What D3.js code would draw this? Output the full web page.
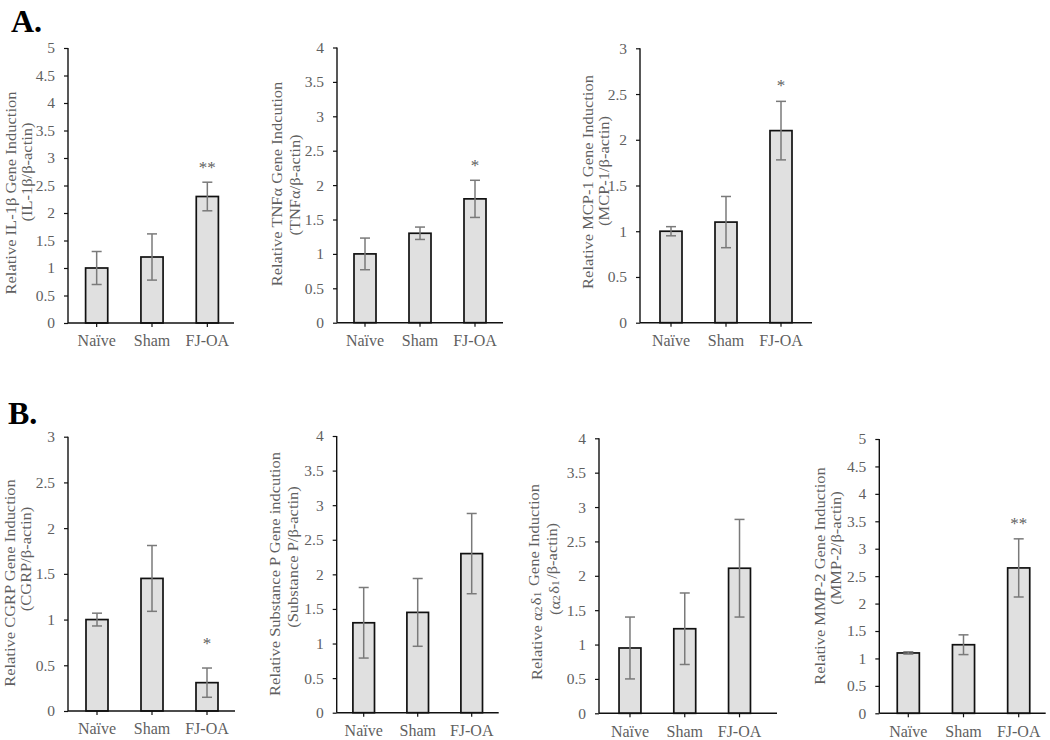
<!DOCTYPE html>
<html>
<head>
<meta charset="utf-8">
<script src="https://cdn.jsdelivr.net/npm/d3@7"></script>
<style>
  html, body { margin: 0; padding: 0; background: #ffffff; }
  svg { display: block; }
  text { font-family: "Liberation Serif", "Times New Roman", serif; }
</style>
</head>
<body>
<svg id="chart" width="1050" height="740"></svg>
<script>
// ---------------- data ----------------
const categories = ["Naïve", "Sham", "FJ-OA"];

const il1bMean = [1.0, 1.2, 2.3];
const il1bErr  = [0.30, 0.42, 0.26];
const il1bSig  = ["", "", "**"];

const tnfMean = [1.0, 1.3, 1.8];
const tnfErr  = [0.23, 0.09, 0.27];
const tnfSig  = ["", "", "*"];

const mcp1Mean = [1.0, 1.1, 2.1];
const mcp1Err  = [0.05, 0.28, 0.32];
const mcp1Sig  = ["", "", "*"];

const cgrpMean = [1.0, 1.45, 0.31];
const cgrpErr  = [0.07, 0.36, 0.16];
const cgrpSig  = ["", "", "*"];

const subPMean = [1.3, 1.45, 2.3];
const subPErr  = [0.51, 0.49, 0.58];
const subPSig  = ["", "", ""];

const a2d1Mean = [0.95, 1.23, 2.11];
const a2d1Err  = [0.45, 0.52, 0.71];
const a2d1Sig  = ["", "", ""];

const mmp2Mean = [1.1, 1.25, 2.65];
const mmp2Err  = [0.02, 0.18, 0.53];
const mmp2Sig  = ["", "", "**"];

// y-axis maximum (ticks every 0.5 from 0)
const il1bMax = 5, tnfMax = 4, mcp1Max = 3, cgrpMax = 3, subPMax = 4, a2d1Max = 4, mmp2Max = 5;
const tickStep = 0.5;

// axis titles (two lines; "_n" marks a subscript)
const il1bTitle = ["Relative IL-1β Gene Induction", "(IL-1β/β-actin)"];
const tnfTitle  = ["Relative TNFα Gene Indcution", "(TNFα/β-actin)"];
const mcp1Title = ["Relative MCP-1 Gene Induction", "(MCP-1/β-actin)"];
const cgrpTitle = ["Relative CGRP Gene Induction", "(CGRP/β-actin)"];
const subPTitle = ["Relative Substance P Gene indcution", "(Substance P/β-actin)"];
const a2d1Title = ["Relative α_2δ_1 Gene Induction", "(α_2δ_1/β-actin)"];
const mmp2Title = ["Relative MMP-2 Gene Induction", "(MMP-2/β-actin)"];

// ---------------- layout ----------------
const panels = [
  { mean: il1bMean, err: il1bErr, sig: il1bSig, sigAt: 2.9,  max: il1bMax, title: il1bTitle,
    axisL: 68, axisR: 234, bandL: 69, bandR: 235, top: 48, bottom: 323,
    t1: [10, 193], t2: [26, 172] },
  { mean: tnfMean, err: tnfErr, sig: tnfSig, sigAt: 2.33, max: tnfMax, title: tnfTitle,
    axisL: 337, axisR: 503, bandL: 337.5, bandR: 502.5, top: 47.5, bottom: 322.7,
    t1: [276, 184], t2: [294, 185] },
  { mean: mcp1Mean, err: mcp1Err, sig: mcp1Sig, sigAt: 2.63, max: mcp1Max, title: mcp1Title,
    axisL: 640, axisR: 812, bandL: 643.5, bandR: 808.5, top: 48.3, bottom: 322.7,
    t1: [587, 182], t2: [603, 171] },
  { mean: cgrpMean, err: cgrpErr, sig: cgrpSig, sigAt: 0.78, max: cgrpMax, title: cgrpTitle,
    axisL: 68, axisR: 235, bandL: 69.5, bandR: 234.5, top: 436.7, bottom: 711,
    t1: [9, 583], t2: [25, 559] },
  { mean: subPMean, err: subPErr, sig: subPSig, sigAt: 0, max: subPMax, title: subPTitle,
    axisL: 336.7, axisR: 498.7, bandL: 336.7, bandR: 498.7, top: 436, bottom: 712.7,
    t1: [274, 574], t2: [292, 557] },
  { mean: a2d1Mean, err: a2d1Err, sig: a2d1Sig, sigAt: 0, max: a2d1Max, title: a2d1Title,
    axisL: 599, axisR: 777, bandL: 602.6, bandR: 766.9, top: 438.3, bottom: 713.3,
    t1: [536, 582], t2: [554, 569] },
  { mean: mmp2Mean, err: mmp2Err, sig: mmp2Sig, sigAt: 3.52, max: mmp2Max, title: mmp2Title,
    axisL: 879.3, axisR: 1045.7, bandL: 880.7, bandR: 1046.3, top: 439, bottom: 713.3,
    t1: [819, 576], t2: [835, 548] }
];

const svg = d3.select("#chart");
const textGray = "#5f5f5f";
const errGray = "#7a7a7a";

function addRichText(sel, str) {
  const parts = str.split(/_(\d)/);
  parts.forEach((p, i) => {
    if (!p) return;
    if (i % 2 === 1) {
      sel.append("tspan").attr("font-size", "0.7em").attr("dy", "0.25em").text(p);
      sel.append("tspan").attr("dy", "-0.25em").text("\u200A");
    } else {
      sel.append("tspan").text(p);
    }
  });
}

panels.forEach(p => {
  const g = svg.append("g");
  const x = d3.scaleBand().domain(categories).range([p.bandL, p.bandR]).paddingInner(0).paddingOuter(0);
  const y = d3.scaleLinear().domain([0, p.max]).range([p.bottom, p.top]);
  const barW = x.bandwidth() * 0.4;
  const rows = categories.map((c, i) => ({ c, m: p.mean[i], e: p.err[i], s: p.sig[i] }));

  g.selectAll("rect.bar").data(rows).enter().append("rect")
    .attr("class", "bar")
    .attr("x", d => x(d.c) + x.bandwidth() / 2 - barW / 2)
    .attr("width", barW)
    .attr("y", d => y(d.m))
    .attr("height", d => y(0) - y(d.m))
    .attr("fill", "#e0e0e0")
    .attr("stroke", "#111")
    .attr("stroke-width", 1.7);

  const cap = 5;
  const eb = g.selectAll("g.err").data(rows).enter().append("g").attr("class", "err")
    .attr("stroke", errGray).attr("stroke-width", 1.5);
  eb.append("line")
    .attr("x1", d => x(d.c) + x.bandwidth() / 2).attr("x2", d => x(d.c) + x.bandwidth() / 2)
    .attr("y1", d => y(d.m - d.e)).attr("y2", d => y(d.m + d.e));
  eb.append("line")
    .attr("x1", d => x(d.c) + x.bandwidth() / 2 - cap).attr("x2", d => x(d.c) + x.bandwidth() / 2 + cap)
    .attr("y1", d => y(d.m + d.e)).attr("y2", d => y(d.m + d.e));
  eb.append("line")
    .attr("x1", d => x(d.c) + x.bandwidth() / 2 - cap).attr("x2", d => x(d.c) + x.bandwidth() / 2 + cap)
    .attr("y1", d => y(d.m - d.e)).attr("y2", d => y(d.m - d.e));

  g.selectAll("text.sig").data(rows.filter(d => d.s)).enter().append("text")
    .attr("class", "sig")
    .attr("x", d => x(d.c) + x.bandwidth() / 2)
    .attr("y", y(p.sigAt) + 9)
    .attr("text-anchor", "middle")
    .attr("font-size", 17)
    .attr("fill", textGray)
    .text(d => d.s);

  const ticks = d3.range(0, p.max + 1e-9, tickStep);
  const yAxis = d3.axisLeft(y).tickValues(ticks).tickSize(4).tickPadding(9)
    .tickFormat(d => String(+d.toFixed(1)));
  const ya = g.append("g").attr("transform", `translate(${p.axisL},0)`).call(yAxis);
  ya.select(".domain").attr("stroke", "#111").attr("stroke-width", 1.4)
    .attr("d", `M0,${p.bottom}V${p.top}`);
  ya.selectAll(".tick line").attr("stroke", "#111").attr("stroke-width", 1.2);
  ya.selectAll(".tick text").attr("font-size", 15.5).attr("fill", textGray)
    .attr("font-family", "Liberation Serif, Times New Roman, serif");

  const xAxis = d3.axisBottom(x).tickSize(4).tickPadding(8);
  const xa = g.append("g").attr("transform", `translate(0,${p.bottom})`).call(xAxis);
  xa.select(".domain").attr("stroke", "#111").attr("stroke-width", 1.4)
    .attr("d", `M${p.axisL},0H${p.axisR}`);
  xa.selectAll(".tick line").attr("stroke", "#111").attr("stroke-width", 1.2);
  xa.selectAll(".tick text").attr("font-size", 16).attr("fill", textGray)
    .attr("font-family", "Liberation Serif, Times New Roman, serif");

  [p.t1, p.t2].forEach((pos, i) => {
    const t = g.append("text")
      .attr("transform", `translate(${pos[0]},${pos[1]}) rotate(-90) scale(1.13,1)`)
      .attr("text-anchor", "middle")
      .attr("dominant-baseline", "central")
      .attr("font-size", 14.6)
      .attr("fill", textGray);
    addRichText(t, p.title[i]);
  });
});

svg.append("text").attr("x", 11).attr("y", 32).attr("font-size", 32).attr("font-weight", "bold")
  .attr("fill", "#000").text("A.");
svg.append("text").attr("x", 8).attr("y", 424).attr("font-size", 32).attr("font-weight", "bold")
  .attr("fill", "#000").text("B.");
</script>
</body>
</html>
